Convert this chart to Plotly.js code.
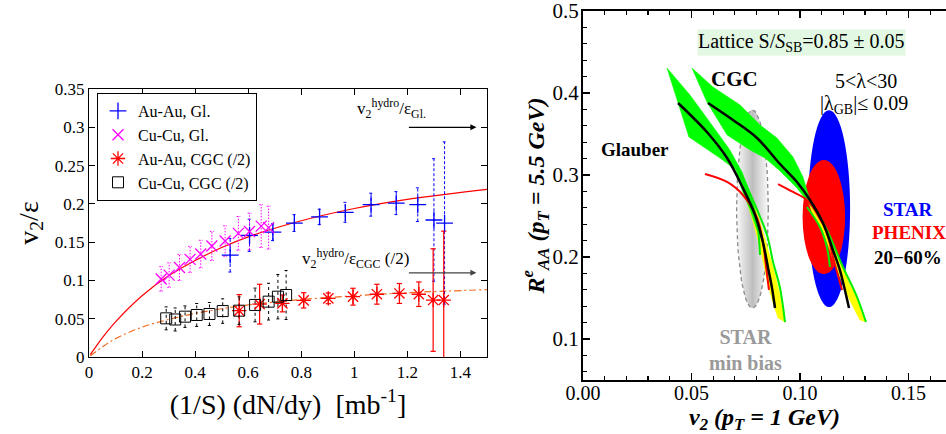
<!DOCTYPE html>
<html><head><meta charset="utf-8">
<script src="https://cdn.plot.ly/plotly-3.0.1.min.js"></script>
<style>html,body{margin:0;padding:0;background:#fff}#chart{width:946px;height:434px}</style>
</head><body><div id="chart"></div>
<script>
// ---------- Left panel data ----------
const auauGlX   = [0.532, 0.605, 0.693, 0.774, 0.869, 0.966, 1.063, 1.158, 1.239, 1.300, 1.340];
const auauGlY   = [0.133, 0.159, 0.163, 0.175, 0.183, 0.189, 0.199, 0.201, 0.199, 0.179, 0.175];
const auauGlErr = [0.022, 0.021, 0.011, 0.011, 0.010, 0.013, 0.015, 0.015, 0.022, 0.080, 0.106];

const cucuGlX   = [0.272, 0.302, 0.341, 0.381, 0.421, 0.463, 0.513, 0.563, 0.605, 0.649, 0.677];
const cucuGlY   = [0.102, 0.107, 0.117, 0.1275, 0.1345, 0.145, 0.1515, 0.1615, 0.164, 0.171, 0.169];
const cucuGlErr = [0.016, 0.016, 0.017, 0.017, 0.018, 0.019, 0.020, 0.022, 0.024, 0.028, 0.028];

const auauCgcX   = [0.566, 0.643, 0.729, 0.809, 0.902, 0.995, 1.085, 1.170, 1.243, 1.297, 1.337];
const auauCgcY   = [0.0605, 0.069, 0.070, 0.074, 0.0766, 0.0788, 0.082, 0.083, 0.082, 0.0744, 0.0744];
const auauCgcErr = [0.021, 0.026, 0.011, 0.010, 0.007, 0.011, 0.013, 0.013, 0.016, 0.067, 0.090];

const cucuCgcX   = [0.291, 0.325, 0.362, 0.406, 0.454, 0.504, 0.566, 0.626, 0.677, 0.712, 0.743];
const cucuCgcY   = [0.0505, 0.049, 0.0527, 0.0549, 0.0562, 0.060, 0.0605, 0.068, 0.0723, 0.0788, 0.081];
const cucuCgcErr = [0.015, 0.015, 0.014, 0.015, 0.015, 0.016, 0.018, 0.022, 0.024, 0.029, 0.032];

const fitX    = [0.005, 0.05, 0.1, 0.2, 0.3, 0.4, 0.5, 0.6, 0.8, 1.0, 1.2, 1.5];
const fitGlY  = [0.003, 0.025, 0.046, 0.080, 0.106, 0.126, 0.143, 0.157, 0.178, 0.194, 0.206, 0.219];
const fitCgcY = [0.0015, 0.013, 0.024, 0.039, 0.049, 0.057, 0.063, 0.068, 0.075, 0.080, 0.084, 0.088];

const hydroArrowX = [1.20, 1.46];
const hydroGl  = 0.30;
const hydroCgc = 0.11;

// ---------- Right panel data ----------
const ellipseNames = ['STAR min bias', 'STAR 20-60%', 'PHENIX 20-60%'];
const ellipseCx = [0.0781, 0.1134, 0.1110];
const ellipseCy = [0.2585, 0.2590, 0.2488];
const ellipseRx = [0.0073, 0.0097, 0.0098];
const ellipseRy = [0.1207, 0.1200, 0.0695];

const glauberBandX = [0.0387,0.0493,0.0594,0.0677,0.0733,0.0779,0.0806,0.0825,0.0802,0.0770,0.0733,0.0705,0.0631,0.0553,0.0488];
const glauberBandY = [0.4305,0.3976,0.3610,0.3305,0.3037,0.2720,0.2427,0.2207,0.2329,0.2573,0.2817,0.3061,0.3207,0.3341,0.3463];
const glauberTailX = [0.0733,0.0779,0.0816,0.0848,0.0880,0.0908,0.0931,0.0899,0.0871,0.0848,0.0829,0.0816,0.0788,0.0747];
const glauberTailY = [0.3000,0.2720,0.2427,0.2146,0.1841,0.1537,0.1207,0.1256,0.1476,0.1720,0.1939,0.2110,0.2390,0.2756];
const glauberEdgeRX = [0.0724,0.0793,0.0848,0.0876,0.0908,0.0931];
const glauberEdgeRY = [0.3037,0.2634,0.2268,0.1939,0.1622,0.1207];
const glauberEdgeLX = [0.0710,0.0770,0.0802,0.0816];
const glauberEdgeLY = [0.3085,0.2720,0.2427,0.2024];
const glauberBlackX = [0.0438,0.0571,0.0664,0.0737,0.0793,0.0829,0.0853,0.0871,0.0885];
const glauberBlackY = [0.3878,0.3524,0.3207,0.2841,0.2512,0.2183,0.1866,0.1622,0.1378];
const glauberRedX = [0.0562,0.0664,0.0737,0.0802,0.0829,0.0843,0.0857];
const glauberRedY = [0.3012,0.2915,0.2756,0.2476,0.2183,0.1902,0.1598];

const cgcBandX = [0.0502,0.0599,0.0724,0.0816,0.0894,0.0968,0.1014,0.1046,0.1083,0.1046,0.0986,0.0908,0.0839,0.0770,0.0664,0.0571];
const cgcBandY = [0.4305,0.4073,0.3854,0.3610,0.3451,0.3220,0.2976,0.2695,0.2512,0.2634,0.2841,0.3049,0.3207,0.3305,0.3488,0.3890];
const cgcTailX = [0.1037,0.1083,0.1124,0.1166,0.1198,0.1230,0.1263,0.1304,0.1276,0.1240,0.1212,0.1184,0.1161,0.1138,0.1101,0.1055];
const cgcTailY = [0.2695,0.2476,0.2305,0.2061,0.1878,0.1659,0.1500,0.1207,0.1232,0.1415,0.1573,0.1756,0.1902,0.2085,0.2329,0.2549];
const cgcEdgeRX = [0.1046,0.1124,0.1198,0.1263,0.1304];
const cgcEdgeRY = [0.2695,0.2329,0.1878,0.1512,0.1207];
const cgcEdgeLX = [0.1032,0.1092,0.1124,0.1138];
const cgcEdgeLY = [0.2610,0.2366,0.2122,0.1878];
const cgcBlackX = [0.0576,0.0691,0.0802,0.0908,0.0986,0.1046,0.1106,0.1152,0.1184,0.1207,0.1226];
const cgcBlackY = [0.3878,0.3671,0.3451,0.3134,0.2915,0.2695,0.2415,0.2085,0.1841,0.1598,0.1378];
const cgcRedX = [0.0899,0.0968,0.1032,0.1083,0.1124,0.1152,0.1194];
const cgcRedY = [0.2890,0.2793,0.2695,0.2512,0.2293,0.2000,0.1598];

const rightXTicks = [0, 0.05, 0.10, 0.15];
const rightYTicks = [0.1, 0.2, 0.3, 0.4, 0.5];

// ---------- helpers ----------
const SERIF = 'Liberation Serif, Times New Roman, serif';
function errSegs(xs, ys, es, cap) {
  const X = [], Y = [];
  for (let i = 0; i < xs.length; i++) {
    const lo = ys[i] - es[i], hi = ys[i] + es[i];
    X.push(xs[i], xs[i], null, xs[i]-cap, xs[i]+cap, null, xs[i]-cap, xs[i]+cap, null);
    Y.push(lo, hi, null, hi, hi, null, lo, lo, null);
  }
  return {X, Y};
}
function errTrace(xs, ys, es, color, dash, cap, w) {
  const s = errSegs(xs, ys, es, cap);
  return {x: s.X, y: s.Y, mode: 'lines', type: 'scatter', xaxis: 'x', yaxis: 'y',
    line: {color: color, dash: dash, width: w || 1}, showlegend: false, hoverinfo: 'skip'};
}
function ellipsePts(i, n) {
  const X = [], Y = [];
  for (let k = 0; k <= n; k++) {
    const t = 2 * Math.PI * k / n;
    X.push(ellipseCx[i] + ellipseRx[i] * Math.cos(t));
    Y.push(ellipseCy[i] + ellipseRy[i] * Math.sin(t));
  }
  return {X, Y};
}
function poly(xs, ys, fill) {
  return {x: xs.concat([xs[0]]), y: ys.concat([ys[0]]), xaxis: 'x2', yaxis: 'y2', type: 'scatter',
    mode: 'lines', fill: 'toself', fillcolor: fill, line: {color: fill, width: 0.5},
    showlegend: false, hoverinfo: 'skip'};
}
function line2(xs, ys, color, w) {
  return {x: xs, y: ys, xaxis: 'x2', yaxis: 'y2', type: 'scatter', mode: 'lines',
    line: {color: color, width: w, shape: 'spline'}, showlegend: false, hoverinfo: 'skip'};
}

const traces = [];
// left curves
traces.push({x: fitX, y: fitGlY, mode: 'lines', line: {color: '#ff0000', width: 1.2, shape: 'spline'}, showlegend: false, hoverinfo: 'skip'});
traces.push({x: fitX, y: fitCgcY, mode: 'lines', line: {color: '#f26a22', width: 1.2, shape: 'spline', dash: '7px,3px,2px,3px'}, showlegend: false, hoverinfo: 'skip'});
// error bars
traces.push(errTrace(auauGlX, auauGlY, auauGlErr, '#0000ff', '3px,2px', 0.007));
traces.push(errTrace(cucuGlX, cucuGlY, cucuGlErr, '#ff00ff', '1.5px,1.5px', 0.007));
traces.push(errTrace(auauCgcX, auauCgcY, auauCgcErr, '#ff0000', 'solid', 0.010, 1.2));
traces.push(errTrace(cucuCgcX, cucuCgcY, cucuCgcErr, '#000000', '3px,3px', 0.006));
// markers (legend)
traces.push({x: auauGlX, y: auauGlY, mode: 'markers', name: 'Au-Au, Gl.',
  marker: {symbol: 'cross-thin', size: 12, color: '#0000ff', line: {color: '#0000ff', width: 1.3}}});
traces.push({x: cucuGlX, y: cucuGlY, mode: 'markers', name: 'Cu-Cu, Gl.',
  marker: {symbol: 'x-thin', size: 11, color: '#ff00ff', line: {color: '#ff00ff', width: 1.3}}});
traces.push({x: auauCgcX, y: auauCgcY, mode: 'markers', name: 'Au-Au, CGC (/2)',
  marker: {symbol: 'asterisk', size: 12, color: '#ff0000', line: {color: '#ff0000', width: 1.3}}});
traces.push({x: cucuCgcX, y: cucuCgcY, mode: 'markers', name: 'Cu-Cu, CGC (/2)',
  marker: {symbol: 'square-open', size: 11, color: '#000000', line: {color: '#000000', width: 1}}});

// right panel
const g = ellipsePts(0, 80);
traces.push({x: g.X, y: g.Y, xaxis: 'x2', yaxis: 'y2', type: 'scatter', mode: 'lines', fill: 'toself',
  fillgradient: {type: 'horizontal', colorscale: [[0, 'rgb(250,250,250)'], [0.5, 'rgb(190,190,190)'], [1, 'rgb(250,250,250)']]},
  line: {color: '#8a8a8a', width: 1.3, dash: '4px,3px'}, showlegend: false, hoverinfo: 'skip'});
traces.push(poly(glauberTailX, glauberTailY, '#ffff00'));
traces.push(poly(cgcTailX, cgcTailY, '#ffff00'));
traces.push(poly(glauberBandX, glauberBandY, '#00ff00'));
traces.push(poly(cgcBandX, cgcBandY, '#00ff00'));
traces.push(line2(glauberEdgeRX, glauberEdgeRY, '#00ee00', 2));
traces.push(line2(glauberEdgeLX, glauberEdgeLY, '#00ee00', 2));
traces.push(line2(cgcEdgeRX, cgcEdgeRY, '#00ee00', 2));
traces.push(line2(cgcEdgeLX, cgcEdgeLY, '#00ee00', 2));
traces.push(line2(glauberRedX, glauberRedY, '#ff0000', 2));
traces.push(line2(cgcRedX, cgcRedY, '#ff0000', 2));
traces.push(line2(glauberBlackX, glauberBlackY, '#000000', 2.5));
traces.push(line2(cgcBlackX, cgcBlackY, '#000000', 2.5));

const shapes = [1, 2].map(i => ({type: 'circle', xref: 'x2', yref: 'y2', layer: 'below',
  x0: ellipseCx[i] - ellipseRx[i], x1: ellipseCx[i] + ellipseRx[i],
  y0: ellipseCy[i] - ellipseRy[i], y1: ellipseCy[i] + ellipseRy[i],
  fillcolor: i === 1 ? '#0000ff' : '#ff0000', line: {width: 0}}));

const ann = [];
ann.push({x: hydroArrowX[1], y: hydroGl, ax: hydroArrowX[0], ay: hydroGl, axref: 'x', ayref: 'y', xref: 'x', yref: 'y',
  text: '', showarrow: true, arrowhead: 2, arrowsize: 1, arrowwidth: 1.2, arrowcolor: '#000'});
ann.push({x: hydroArrowX[1], y: hydroCgc, ax: hydroArrowX[0], ay: hydroCgc, axref: 'x', ayref: 'y', xref: 'x', yref: 'y',
  text: '', showarrow: true, arrowhead: 2, arrowsize: 1, arrowwidth: 1.2, arrowcolor: '#444'});
ann.push({x: 1.0026, y: 0.325, xref: 'x', yref: 'y', xanchor: 'left', yanchor: 'middle', showarrow: false,
  text: 'v<sub>2</sub><sup>hydro</sup>/ε<sub>Gl.</sub>', font: {family: SERIF, size: 17, color: '#000'}});
ann.push({x: 0.795, y: 0.129, xref: 'x', yref: 'y', xanchor: 'left', yanchor: 'middle', showarrow: false,
  text: 'v<sub>2</sub><sup>hydro</sup>/ε<sub>CGC</sub> (/2)', font: {family: SERIF, size: 17, color: '#000'}});

const R = (x, y, t, size, color, opt) => Object.assign({x: x, y: y, xref: 'x2', yref: 'y2', text: t, showarrow: false,
  xanchor: 'center', yanchor: 'middle', font: {family: SERIF, size: size, color: color}}, opt || {});
ann.push(R(0.1005, 0.461, 'Lattice S/<i>S</i><sub>SB</sub>=0.85 ± 0.05', 20, '#000', {bgcolor: '#e2f8e2', borderpad: 0}));
ann.push(R(0.1304, 0.4146, '5&lt;λ&lt;30', 20, '#000'));
ann.push(R(0.1295, 0.3860, '|λ<sub>GB</sub>|≤ 0.09', 20, '#000'));
ann.push(R(0.0700, 0.4171, '<b>CGC</b>', 21, '#000'));
ann.push(R(0.0240, 0.3305, '<b>Glauber</b>', 19, '#000'));
ann.push(R(0.0751, 0.0866, '<b>STAR<br>min bias</b>', 20, '#9a9a9a'));
ann.push(R(0.1498, 0.2585, '<b>STAR</b>', 19, '#0000ff'));
ann.push(R(0.1502, 0.2293, '<b>PHENIX</b>', 19, '#ff0000'));
ann.push(R(0.1498, 0.1988, '<b>20−60%</b>', 19, '#000'));

const axL = {showgrid: false, zeroline: false, showline: true, linecolor: '#000', linewidth: 1, mirror: 'ticks',
  ticks: 'inside', ticklen: 6, tickcolor: '#000', tickfont: {family: SERIF, size: 17, color: '#000'}, automargin: false};
const axR = {showgrid: false, zeroline: false, showline: true, linecolor: '#000', linewidth: 2,
  ticks: 'inside', ticklen: 7, tickwidth: 1.2, tickcolor: '#000', tickfont: {family: SERIF, size: 21, color: '#000'},
  automargin: false, ticklabeloverflow: 'allow'};

const layout = {
  width: 946, height: 434, margin: {l: 0, r: 0, t: 0, b: 0},
  paper_bgcolor: '#fff', plot_bgcolor: 'rgba(0,0,0,0)',
  font: {family: SERIF, color: '#000'},
  showlegend: true,
  legend: {x: 97/946, y: 1 - 93/434, xanchor: 'left', yanchor: 'top', bgcolor: '#fff', bordercolor: '#000', borderwidth: 1,
    font: {family: SERIF, size: 16, color: '#000'}, tracegroupgap: 0, itemwidth: 30},
  xaxis: Object.assign({}, axL, {domain: [89/946, 487/946], range: [0, 1.5], tick0: 0, dtick: 0.2, anchor: 'y',
    title: {text: '(1/S) (dN/dy)  [mb<sup>-1</sup>]', font: {family: SERIF, size: 28, color: '#000'}, standoff: 12}}),
  yaxis: Object.assign({}, axL, {domain: [1 - 357/434, 1 - 89/434], range: [0, 0.3501], tick0: 0, dtick: 0.05, anchor: 'x',
    title: {text: 'v<sub>2</sub>/ε', font: {family: SERIF, size: 28, color: '#000'}, standoff: 8}}),
  xaxis2: Object.assign({}, axR, {domain: [583/946, 1], range: [0, 0.1673], tickvals: rightXTicks, tickformat: '.2f', anchor: 'y2',
    mirror: 'ticks', ticklabelstandoff: -6, tickfont: {family: SERIF, size: 20, color: '#000'},
    minor: {dtick: 0.01, ticks: 'inside', ticklen: 4, tickcolor: '#000'},
    title: {text: '<b><i>v<sub>2</sub> (p<sub>T</sub> = 1 GeV)</i></b>', font: {family: SERIF, size: 24, color: '#000'}, standoff: 12}}),
  yaxis2: Object.assign({}, axR, {domain: [1 - 380/434, 1 - 11/434], range: [0.05, 0.5], tickvals: rightYTicks, tickformat: '.1f', anchor: 'x2',
    ticklabelstandoff: -2, minor: {dtick: 0.02, ticks: 'inside', ticklen: 4, tickcolor: '#000'},
    title: {text: '<b><i>R<sup>e</sup><sub>AA</sub> (p<sub>T</sub> = 5.5 GeV)</i></b>', font: {family: SERIF, size: 24, color: '#000'}, standoff: 0}}),
  shapes: shapes,
  annotations: ann
};

Plotly.newPlot('chart', traces, layout, {staticPlot: true, displayModeBar: false});
</script></body></html>
